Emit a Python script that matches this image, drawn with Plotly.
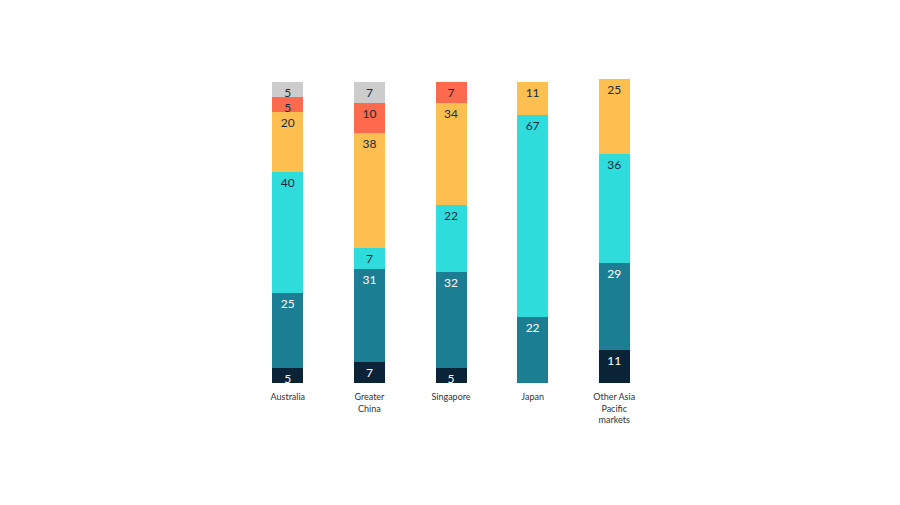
import plotly.graph_objects as go

markets = ["Australia", "Greater<br>China", "Singapore", "Japan",
           "Other Asia<br>Pacific<br>markets"]

# segments from bottom to top
navy = [5, 7, 5, None, 11]
teal = [25, 31, 32, 22, 29]
cyan = [40, 7, 22, 67, 36]
yellow = [20, 38, 34, 11, 25]
coral = [5, 10, 7, None, None]
grey = [5, 7, None, None, None]

series = [
    ("navy", navy, "#0b2336", "white"),
    ("teal", teal, "#1b7e92", "white"),
    ("cyan", cyan, "#2edcdc", "#1c2b3a"),
    ("yellow", yellow, "#fdbf50", "#1c2b3a"),
    ("coral", coral, "#fd6a4e", "#1c2b3a"),
    ("grey", grey, "#cccccc", "#1c2b3a"),
]

fig = go.Figure()
for name, vals, color, tcolor in series:
    fig.add_trace(go.Bar(
        x=markets, y=vals, name=name,
        marker=dict(color=color, line_width=0),
        text=vals, texttemplate="%{text}",
        textposition="inside", insidetextanchor="end", textangle=0,
        textfont=dict(color=tcolor, size=12, family="Lato"),
        cliponaxis=False,
    ))

fig.update_layout(
    barmode="stack", bargap=0.62,
    width=900, height=505,
    margin=dict(l=239, r=253, t=71, b=130),
    plot_bgcolor="white", paper_bgcolor="white",
    showlegend=False,
    uniformtext=dict(minsize=12, mode="show"),
    font=dict(family="Lato", color="#333333"),
)
fig.update_xaxes(showline=False, ticks="outside", ticklen=5, tickcolor="white",
                 tickfont=dict(size=9, color="#333333"))
fig.update_yaxes(range=[0, 101], visible=False, showgrid=False)

fig.write_html("out.html")
